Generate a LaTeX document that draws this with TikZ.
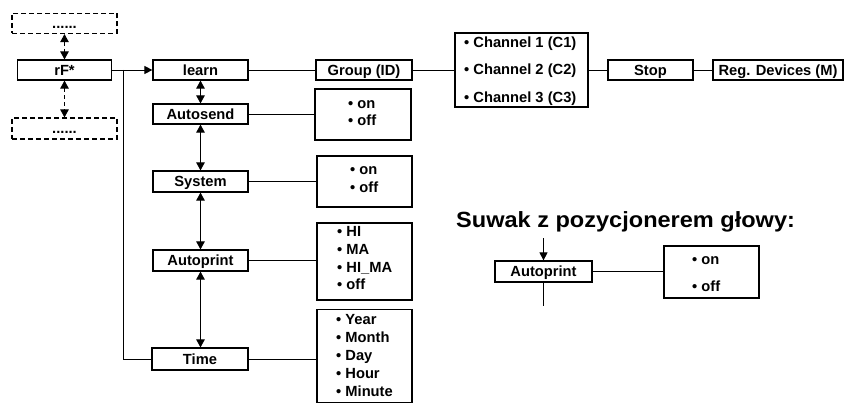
\documentclass[tikz,border=0pt]{standalone}
\usepackage{fontspec}
\setmainfont{Liberation Sans}
\usepackage{graphicx}
\usetikzlibrary{arrows.meta}
\newcommand\labfont{\fontsize{14.7}{17}\selectfont\bfseries}
\newcommand\headfont{\fontsize{22}{26}\selectfont\bfseries}
\begin{document}
\begin{tikzpicture}[x=1pt,y=-1pt,
 box/.style={draw, line width=1.2pt, inner sep=0pt, minimum height=20pt, text height=10.4pt, text depth=0pt, font=\labfont},
 dbox/.style={box, dash pattern=on 5pt off 3pt},
 obox/.style={draw, line width=1.2pt, inner sep=0pt},
 opt/.style={anchor=mid west, inner sep=0pt, font=\labfont},
 con/.style={line width=0.9pt},
 tip/.style={-{Triangle[length=8pt,width=8pt]}},
 dar/.style={con, {Triangle[length=8pt,width=8.5pt]}-{Triangle[length=8pt,width=8.5pt]}},
]
\useasboundingbox (0,0) rectangle (847,404);
% left column
\node[dbox, minimum width=105pt] (top) at (64.5,23.5) {......};
\node[box, minimum width=94pt] (rf) at (64.5,70) {rF*};
\node[dbox, minimum width=105pt, minimum height=21pt] (bot) at (64.5,128.5) {......};
\draw[dar, dash pattern=on 4pt off 3pt] (top.south) -- (rf.north);
\draw[dar, dash pattern=on 4pt off 3pt] (rf.south) -- (bot.north);
% menu column
\node[box, minimum width=95pt] (learn) at (200.5,70) {learn};
\node[box, minimum width=95pt] (autosend) at (200.5,114) {Autosend};
\node[box, minimum width=95pt, minimum height=21pt] (system) at (200.5,181.5) {System};
\node[box, minimum width=95pt, minimum height=21pt] (autoprint) at (200.5,260.5) {Autoprint};
\node[box, minimum width=96pt, minimum height=22pt] (time) at (200,359) {Time};
\coordinate (junc) at (123,70);
\draw[con] (rf.east) -- (junc);
\draw[con, tip] (junc) -- (learn.west);
\draw[con] (junc) |- (time.west);
\draw[dar] (learn.south) -- (autosend.north);
\draw[dar] (autosend.south) -- (system.north);
\draw[dar] (system.south) -- (autoprint.north);
\draw[dar] (autoprint.south) -- (time.north -| autoprint.south);
% learn row
\node[box, minimum width=96pt] (group) at (364,70) {Group (ID)};
\node[obox, minimum width=133pt, minimum height=74pt] (chan) at (521.5,70) {};
\node[opt] (c1) at (464,44.5) {• Channel 1 (C1)};
\node[opt] (c2) at (464,72) {• Channel 2 (C2)};
\node[opt] (c3) at (464,99.5) {• Channel 3 (C3)};
\node[box, minimum width=85pt] (stop) at (650.5,70) {Stop};
\node[box, minimum width=130pt] (reg) at (778,70) {Reg. Devices (M)};
\draw[con] (learn.east) -- (group.west);
\draw[con] (group.east) -- (chan.west);
\draw[con] (chan.east) -- (stop.west);
\draw[con] (stop.east) -- (reg.west);
% option boxes
\node[obox, minimum width=96pt, minimum height=51pt] (asopt) at (363,114.5) {};
\node[opt] (as1) at (348,105.5) {• on};
\node[opt] (as2) at (348,123) {• off};
\node[obox, minimum width=95pt, minimum height=51pt] (sysopt) at (364.5,181.5) {};
\node[opt] (sy1) at (350,171.5) {• on};
\node[opt] (sy2) at (350,189.5) {• off};
\node[obox, minimum width=95pt, minimum height=77pt] (apopt) at (364.5,261.5) {};
\node[opt] (ap1) at (337,233.5) {• HI};
\node[opt] (ap2) at (337,251.5) {• MA};
\node[opt] (ap3) at (337,269.5) {• HI\_MA};
\node[opt] (ap4) at (337,287) {• off};
\node[obox, minimum width=95pt, minimum height=93pt] (tmopt) at (364.5,356) {};
\node[opt] (t1) at (336,322) {• Year};
\node[opt] (t2) at (336,340) {• Month};
\node[opt] (t3) at (336,358) {• Day};
\node[opt] (t4) at (336,376) {• Hour};
\node[opt] (t5) at (336,394) {• Minute};
\draw[con] (autosend.east) -- (autosend.east -| asopt.west);
\draw[con] (system.east) -- (system.east -| sysopt.west);
\draw[con] (autoprint.east) -- (autoprint.east -| apopt.west);
\draw[con] (time.east) -- (time.east -| tmopt.west);
% right part
\node[anchor=base west, inner sep=0pt, font=\headfont] (head) at (456,227) {\scalebox{1.07}[1]{Suwak z pozycjonerem głowy:}};
\node[box, minimum width=97pt, minimum height=21pt] (sap) at (543.5,271.5) {Autoprint};
\node[obox, minimum width=95pt, minimum height=52pt] (sopt) at (711.5,272) {};
\node[opt] (s1) at (692,262) {• on};
\node[opt] (s2) at (692,289) {• off};
\coordinate (sin) at (543.5,238);
\coordinate (sout) at (543.5,306);
\draw[con, tip] (sin) -- (sap.north);
\draw[con] (sap.south) -- (sout);
\draw[con] (sap.east) -- (sap.east -| sopt.west);
\end{tikzpicture}
\end{document}
